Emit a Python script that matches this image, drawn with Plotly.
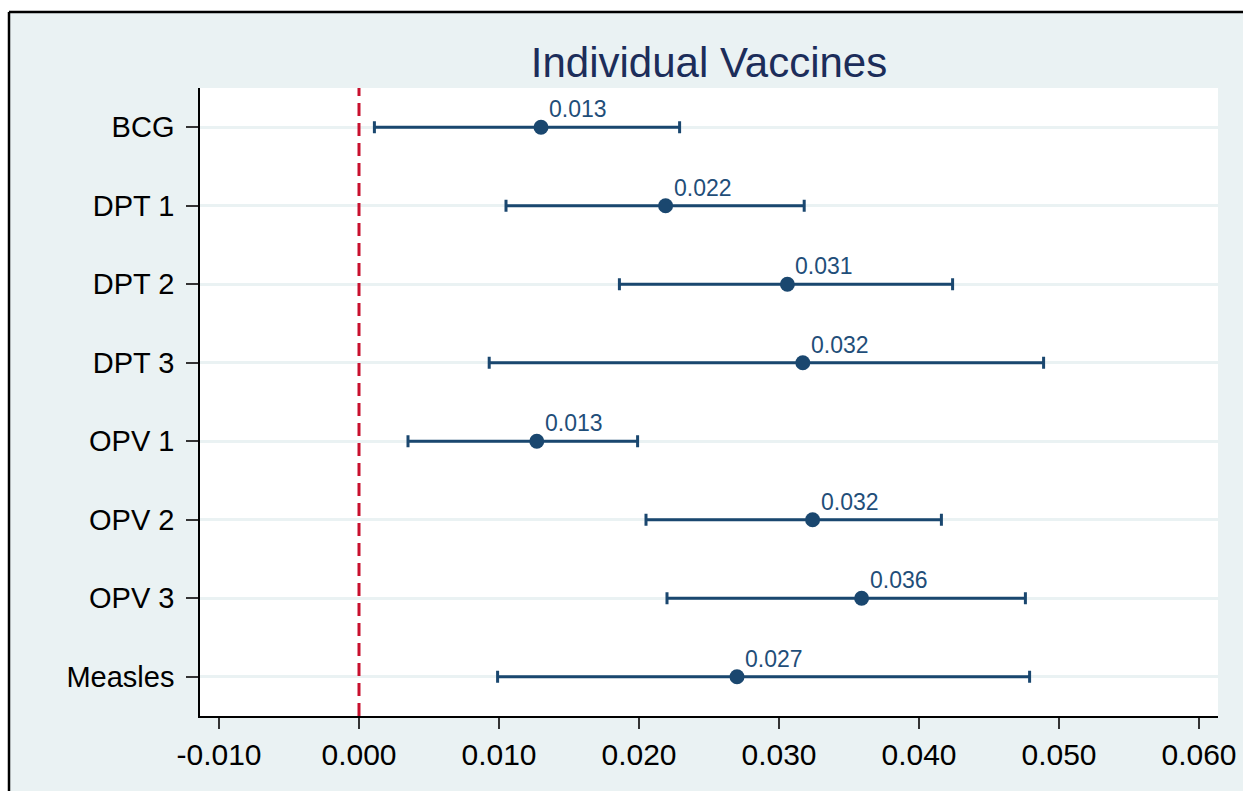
import plotly.graph_objects as go

vaccines = ["BCG", "DPT 1", "DPT 2", "DPT 3", "OPV 1", "OPV 2", "OPV 3", "Measles"]
estimate = [0.0130, 0.0219, 0.0306, 0.0317, 0.0127, 0.0324, 0.0359, 0.0270]
lower = [0.0011, 0.0105, 0.0186, 0.0093, 0.0035, 0.0205, 0.0220, 0.0099]
upper = [0.0229, 0.0318, 0.0424, 0.0489, 0.0199, 0.0416, 0.0476, 0.0479]
x_ticks = [-0.01, 0.0, 0.01, 0.02, 0.03, 0.04, 0.05, 0.06]
x_ticklabels = ["-0.010", "0.000", "0.010", "0.020", "0.030", "0.040", "0.050", "0.060"]
labels = ["0.013", "0.022", "0.031", "0.032", "0.013", "0.032", "0.036", "0.027"]

NAVY = "#1a476f"
BG = "#eaf2f3"
FONT = "Liberation Sans, Arial, sans-serif"

fig = go.Figure()
fig.add_trace(go.Scatter(
    x=estimate, y=vaccines, mode="markers",
    marker=dict(color=NAVY, size=15),
    error_x=dict(type="data", symmetric=False,
                 array=[u - e for u, e in zip(upper, estimate)],
                 arrayminus=[e - l for e, l in zip(estimate, lower)],
                 color=NAVY, thickness=3, width=6),
    showlegend=False, hoverinfo="skip",
))

for v, e, t in zip(vaccines, estimate, labels):
    fig.add_annotation(x=e, y=v, text=t, showarrow=False, xanchor="left", yanchor="bottom",
                       xshift=6, yshift=3, font=dict(size=23, color="#1f4e79", family=FONT))

# reference line at zero
fig.add_shape(type="line", xref="x", yref="paper", x0=0, x1=0, y0=0, y1=1,
              line=dict(color="#c8102e", width=3, dash="13px,7px"), layer="above")

W, H = 1243, 791
L, R, T, B = 200, 25, 88, 75
pw, ph = W - L - R, H - T - B
def px(p):
    return (p - L) / pw
def py(p):
    return (H - B - p) / ph

# white outside area and black frame
fig.add_shape(type="rect", xref="paper", yref="paper", x0=px(-20), x1=px(W + 20), y0=py(11), y1=py(-20),
              fillcolor="white", line=dict(width=0), layer="below")
fig.add_shape(type="rect", xref="paper", yref="paper", x0=px(-20), x1=px(8), y0=py(H + 20), y1=py(-20),
              fillcolor="white", line=dict(width=0), layer="below")
fig.add_shape(type="line", xref="paper", yref="paper", x0=px(9), x1=px(W + 20), y0=py(12), y1=py(12),
              line=dict(color="black", width=2.5), layer="above")
fig.add_shape(type="line", xref="paper", yref="paper", x0=px(9), x1=px(9), y0=py(12), y1=py(H + 20),
              line=dict(color="black", width=2.5), layer="above")

fig.update_layout(
    width=W, height=H,
    margin=dict(l=L, r=R, t=T, b=B),
    paper_bgcolor=BG, plot_bgcolor="white",
    font=dict(family=FONT, color="black"),
    title=dict(text="Individual Vaccines", x=0.5, xref="paper", xanchor="center",
               y=1 - 62 / H, yanchor="middle", yref="container",
               font=dict(size=42, color="#1c2d5a", family=FONT)),
)
fig.update_xaxes(range=[-0.011357, 0.061357], tickvals=x_ticks, ticktext=x_ticklabels,
                 showgrid=False, zeroline=False, showline=True, linecolor="black", linewidth=1.5,
                 ticks="outside", ticklen=11, tickwidth=1.5, tickcolor="#333", automargin=False,
                 tickfont=dict(size=30, color="black"))
fig.update_yaxes(type="category", categoryorder="array", categoryarray=vaccines,
                 range=[7.5, -0.5], showgrid=True, gridcolor=BG, gridwidth=2.5, zeroline=False,
                 showline=True, linecolor="black", linewidth=1.5, automargin=False,
                 ticks="outside", ticklen=12, tickwidth=1.5, tickcolor="#333",
                 tickfont=dict(size=29, color="black"), ticklabelstandoff=6)

fig.write_html("out.html")
